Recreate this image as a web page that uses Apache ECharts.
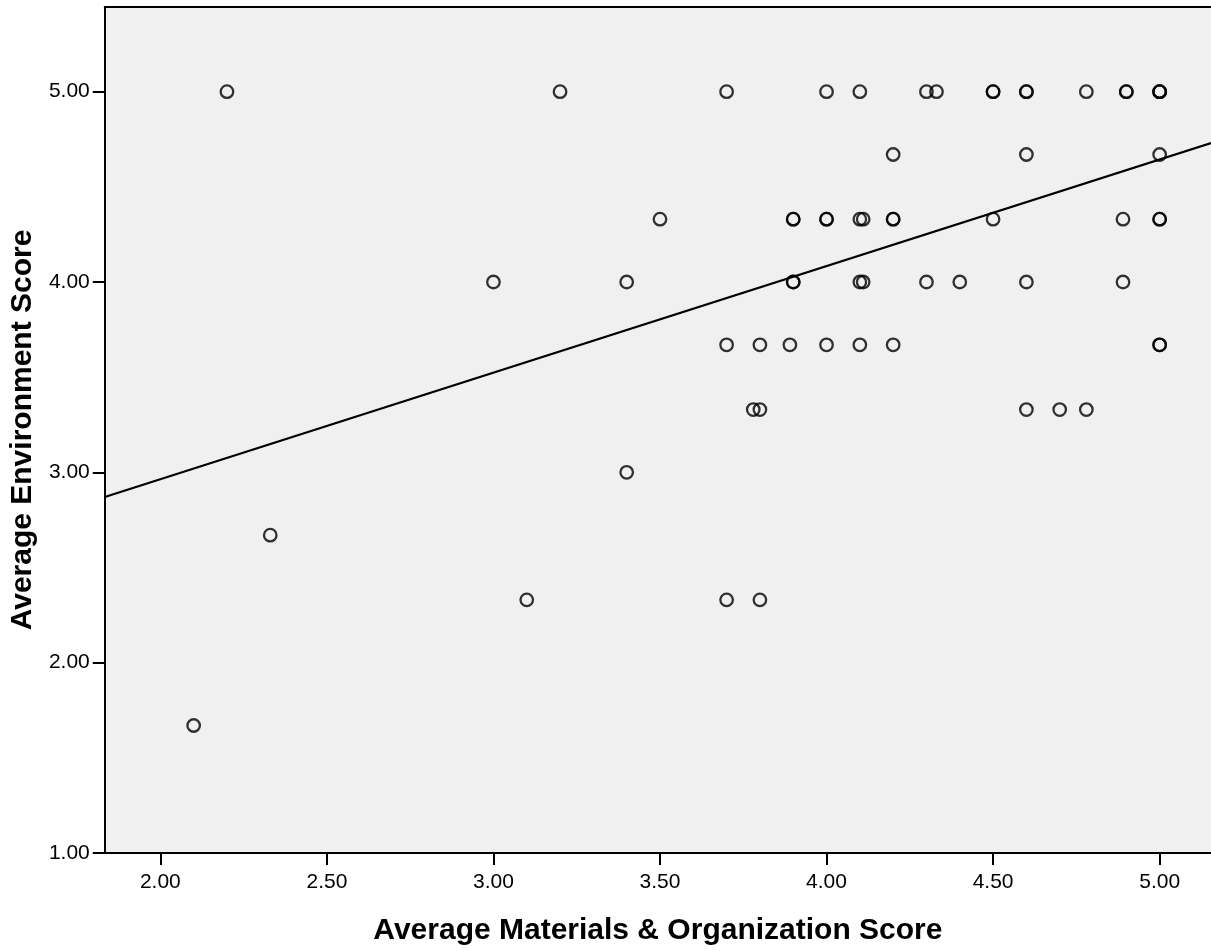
<!DOCTYPE html>
<html>
<head>
<meta charset="utf-8">
<title>Average Environment Score vs Average Materials &amp; Organization Score</title>
<script src="https://cdn.jsdelivr.net/npm/echarts@6/dist/echarts.min.js"></script>
<style>
  html, body { margin: 0; padding: 0; background: #ffffff; }
  #chart { width: 1211px; height: 951px; }
</style>
</head>
<body>
<div id="chart"></div>
<script>
// Respondent scores: x = Average Materials & Organization Score, y = Average Environment Score
const materialsScore = [
  2.20, 3.20, 3.70, 4.00, 4.10, 4.30, 4.33, 4.50, 4.50, 4.60, 4.60, 4.78, 4.90, 4.90, 5.00, 5.00, 5.00,
  4.20, 4.60, 5.00,
  3.50, 3.90, 3.90, 4.00, 4.00, 4.10, 4.11, 4.20, 4.20, 4.50, 4.89, 5.00, 5.00,
  3.00, 3.40, 3.90, 3.90, 4.10, 4.11, 4.30, 4.40, 4.60, 4.89,
  3.70, 3.80, 3.89, 4.00, 4.10, 4.20, 5.00, 5.00,
  3.78, 3.80, 4.60, 4.70, 4.78,
  3.40,
  2.33,
  3.10, 3.70, 3.80,
  2.10
];
const environmentScore = [
  5.00, 5.00, 5.00, 5.00, 5.00, 5.00, 5.00, 5.00, 5.00, 5.00, 5.00, 5.00, 5.00, 5.00, 5.00, 5.00, 5.00,
  4.67, 4.67, 4.67,
  4.33, 4.33, 4.33, 4.33, 4.33, 4.33, 4.33, 4.33, 4.33, 4.33, 4.33, 4.33, 4.33,
  4.00, 4.00, 4.00, 4.00, 4.00, 4.00, 4.00, 4.00, 4.00, 4.00,
  3.67, 3.67, 3.67, 3.67, 3.67, 3.67, 3.67, 3.67,
  3.33, 3.33, 3.33, 3.33, 3.33,
  3.00,
  2.67,
  2.33, 2.33, 2.33,
  1.67
];

// Linear fit line: environment = fitIntercept + fitSlope * materials
const fitIntercept = 1.844;
const fitSlope = 0.560;

// Axis tick labels
const xTicks = [2.00, 2.50, 3.00, 3.50, 4.00, 4.50, 5.00];
const yTicks = [1.00, 2.00, 3.00, 4.00, 5.00];

const xMin = 1.8332, xMax = 5.1542;
const yMin = 1.00, yMax = 5.445;

const points = materialsScore.map((x, i) => [x, environmentScore[i]]);
const fitLine = [xMin, xMax].map(x => [x, fitIntercept + fitSlope * x]);

const FONT = '"Liberation Sans", Arial, sans-serif';

const chart = echarts.init(document.getElementById('chart'), null, { renderer: 'canvas' });

chart.setOption({
  animation: false,
  backgroundColor: '#ffffff',
  grid: {
    left: 101, right: 0, top: 7, bottom: 91,
    show: true, backgroundColor: '#f0f0f0', borderWidth: 0
  },
  xAxis: [{
    type: 'value',
    min: xMin, max: xMax,
    name: 'Average Materials & Organization Score',
    nameLocation: 'middle',
    nameGap: 63,
    nameTextStyle: { fontFamily: FONT, fontWeight: 'bold', fontSize: 30, color: '#000' },
    axisLine: { show: true, onZero: false, lineStyle: { color: '#000', width: 2 } },
    axisTick: { show: true, length: 12, customValues: xTicks, lineStyle: { color: '#000', width: 2 } },
    axisLabel: {
      customValues: xTicks, margin: 19,
      fontFamily: FONT, fontSize: 21, color: '#000',
      formatter: v => v.toFixed(2)
    },
    splitLine: { show: false }
  }, {
    // top frame line of the plot area
    type: 'value', position: 'top',
    min: xMin, max: xMax,
    axisLine: { show: true, onZero: false, lineStyle: { color: '#000', width: 2 } },
    axisTick: { show: false }, axisLabel: { show: false }, splitLine: { show: false }
  }],
  yAxis: {
    type: 'value',
    min: yMin, max: yMax,
    name: 'Average Environment Score',
    nameLocation: 'middle',
    nameGap: 64,
    nameTextStyle: { fontFamily: FONT, fontWeight: 'bold', fontSize: 30, color: '#000' },
    axisLine: { show: true, onZero: false, lineStyle: { color: '#000', width: 2 } },
    axisTick: { show: true, length: 12, customValues: yTicks, lineStyle: { color: '#000', width: 2 } },
    axisLabel: {
      customValues: yTicks, margin: 15,
      fontFamily: FONT, fontSize: 21, color: '#000',
      formatter: v => v.toFixed(2)
    },
    splitLine: { show: false }
  },
  series: [{
    type: 'line',
    data: fitLine,
    showSymbol: false,
    lineStyle: { color: '#000', width: 2.2 },
    silent: true,
    z: 2
  }, {
    type: 'scatter',
    data: points,
    symbol: 'circle',
    symbolSize: 12.5,
    itemStyle: { color: 'rgba(0,0,0,0)', borderColor: '#000', borderWidth: 2.3 },
    z: 3
  }]
});
</script>
</body>
</html>
